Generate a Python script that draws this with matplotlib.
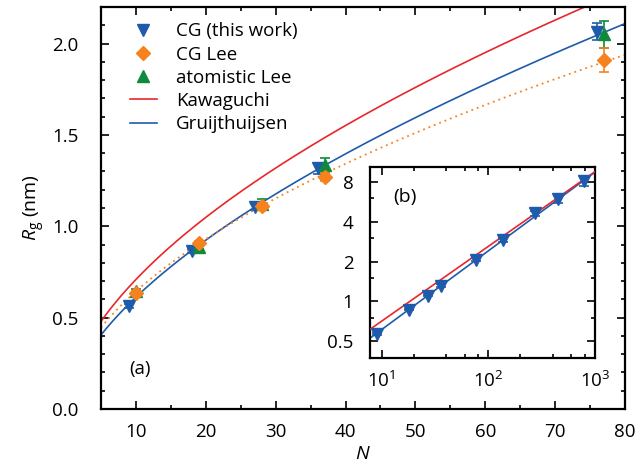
import numpy as np
import matplotlib
matplotlib.use("Agg")
from matplotlib import pyplot as plt
from matplotlib.lines import Line2D
from matplotlib.ticker import FixedLocator, NullFormatter, FormatStrFormatter

plt.rcParams['font.family'] = ['Open Sans', 'DejaVu Sans']
plt.rcParams['mathtext.fontset'] = 'custom'
plt.rcParams['mathtext.rm'] = 'Open Sans'
plt.rcParams['mathtext.it'] = 'Open Sans:italic'

# CG (this work)
cg_N = [9, 18, 27, 36, 76]
cg_R = [0.565, 0.865, 1.105, 1.318, 2.065]
cg_err = [0.01, 0.01, 0.015, 0.03, 0.045]

# CG Lee
lee_N = [10, 19, 28, 37, 77]
lee_R = [0.635, 0.91, 1.11, 1.27, 1.91]
lee_err = [0.01, 0.01, 0.02, 0.02, 0.067]

# atomistic Lee
at_N = [10, 19, 28, 37, 77]
at_R = [0.645, 0.885, 1.12, 1.333, 2.05]
at_err = [0.01, 0.01, 0.03, 0.04, 0.075]

# inset: CG (this work), long chains
ins_N = [9, 18, 27, 36, 76, 136, 273, 454, 795]
ins_R = [0.565, 0.865, 1.105, 1.318, 2.065, 2.91, 4.62, 5.93, 8.14]
ins_err = [0.01, 0.01, 0.015, 0.03, 0.045, 0.08, 0.2, 0.4, 0.75]

# power laws R = a * N**nu
kaw_a, kaw_nu = 0.193, 0.565
gru_a, gru_nu = 0.1555, 0.595
leefit_a, leefit_nu = 0.19, 0.53

red = "#e8262b"
blue = "#1f5bab"
orange = "#f6821f"
green = "#0f8a3c"

fig = plt.figure(figsize=(6.38, 4.70), dpi=100)
ax = fig.add_axes([0.1583, 0.1298, 0.8213, 0.8553])

Nc = np.linspace(5, 80, 300)
ax.plot(Nc, kaw_a * Nc**kaw_nu, color=red, lw=1.2, zorder=2)
ax.plot(Nc, gru_a * Nc**gru_nu, color=blue, lw=1.2, zorder=2)
ax.plot(Nc, leefit_a * Nc**leefit_nu, color=orange, lw=1.3, ls=(0, (1, 2.2)), zorder=2)

ekw = dict(capsize=3.5, elinewidth=1.2, capthick=1.2, ls='none')
ax.errorbar(cg_N, cg_R, yerr=cg_err, marker='v', ms=8.5, color=blue, zorder=3, **ekw)
ax.errorbar(at_N, at_R, yerr=at_err, marker='^', ms=8.5, color=green, zorder=4, **ekw)
ax.errorbar(lee_N, lee_R, yerr=lee_err, marker='D', ms=7, color=orange, zorder=5, **ekw)

ax.set_xlim(5, 80)
ax.set_ylim(0, 2.2)
ax.set_xticks(np.arange(10, 81, 10))
ax.set_xticks(np.arange(5, 81, 5), minor=True)
ax.set_yticks(np.arange(0, 2.01, 0.5))
ax.set_yticks(np.arange(0, 2.21, 0.1), minor=True)
ax.yaxis.set_major_formatter(FormatStrFormatter('%.1f'))
ax.tick_params(which='both', direction='in', top=True, right=True, labelsize=13.5, width=1.2)
ax.tick_params(which='major', length=6)
ax.tick_params(which='minor', length=3)
ax.tick_params(axis='x', which='major', pad=10)
ax.tick_params(axis='y', which='major', pad=16)
for s in ax.spines.values():
    s.set_linewidth(1.6)
ax.set_xlabel(r'$N$', fontsize=14, labelpad=3)
ax.set_ylabel(r'$R_{\rm g}$ (nm)', fontsize=14, labelpad=4)
ax.text(10.6, 0.22, '(a)', fontsize=13.5, ha='center', va='center')

handles = [
    Line2D([], [], marker='v', ms=8.5, color=blue, ls='none'),
    Line2D([], [], marker='D', ms=7, color=orange, ls='none'),
    Line2D([], [], marker='^', ms=8.5, color=green, ls='none'),
    Line2D([], [], color=red, lw=1.2),
    Line2D([], [], color=blue, lw=1.2),
]
labels = ['CG (this work)', 'CG Lee', 'atomistic Lee', 'Kawaguchi', 'Gruijthuijsen']
ax.legend(handles, labels, loc='upper left', bbox_to_anchor=(0.055, 0.962), frameon=False,
          fontsize=13.5, handlelength=1.45, handletextpad=1.0, labelspacing=0.28,
          borderpad=0, borderaxespad=0)

# inset
axi = fig.add_axes([0.580, 0.238, 0.353, 0.406])
Ni = np.logspace(np.log10(7.8), np.log10(1010), 200)
axi.plot(Ni, gru_a * Ni**gru_nu, color=blue, lw=1.2, zorder=2)
axi.plot(Ni, kaw_a * Ni**kaw_nu, color=red, lw=1.2, zorder=3)
axi.errorbar(ins_N, ins_R, yerr=ins_err, marker='v', ms=8.5, color=blue, zorder=4, **ekw)
axi.set_xscale('log')
axi.set_yscale('log')
axi.set_xlim(7.8, 1005)
axi.set_ylim(0.373, 10.3)
yt = [0.5, 1, 2, 4, 8]
axi.yaxis.set_major_locator(FixedLocator(yt))
axi.set_yticklabels(['0.5', '1', '2', '4', '8'])
axi.yaxis.set_minor_locator(FixedLocator([0.375, 0.75, 1.5, 3, 6]))
axi.yaxis.set_minor_formatter(NullFormatter())
axi.xaxis.set_major_locator(FixedLocator([10, 100, 1000]))
axi.xaxis.set_minor_locator(FixedLocator([20, 40, 60, 80, 200, 400, 600, 800]))
axi.xaxis.set_minor_formatter(NullFormatter())
axi.tick_params(which='both', direction='in', top=True, right=True, labelsize=13.5, width=1.2)
axi.tick_params(which='major', length=6)
axi.tick_params(which='minor', length=3)
axi.tick_params(axis='x', which='major', pad=9)
axi.tick_params(axis='y', which='major', pad=12)
for s in axi.spines.values():
    s.set_linewidth(1.6)
axi.text(0.155, 0.845, '(b)', transform=axi.transAxes, fontsize=14, ha='center', va='center')

fig.savefig('out.png', dpi=100)
